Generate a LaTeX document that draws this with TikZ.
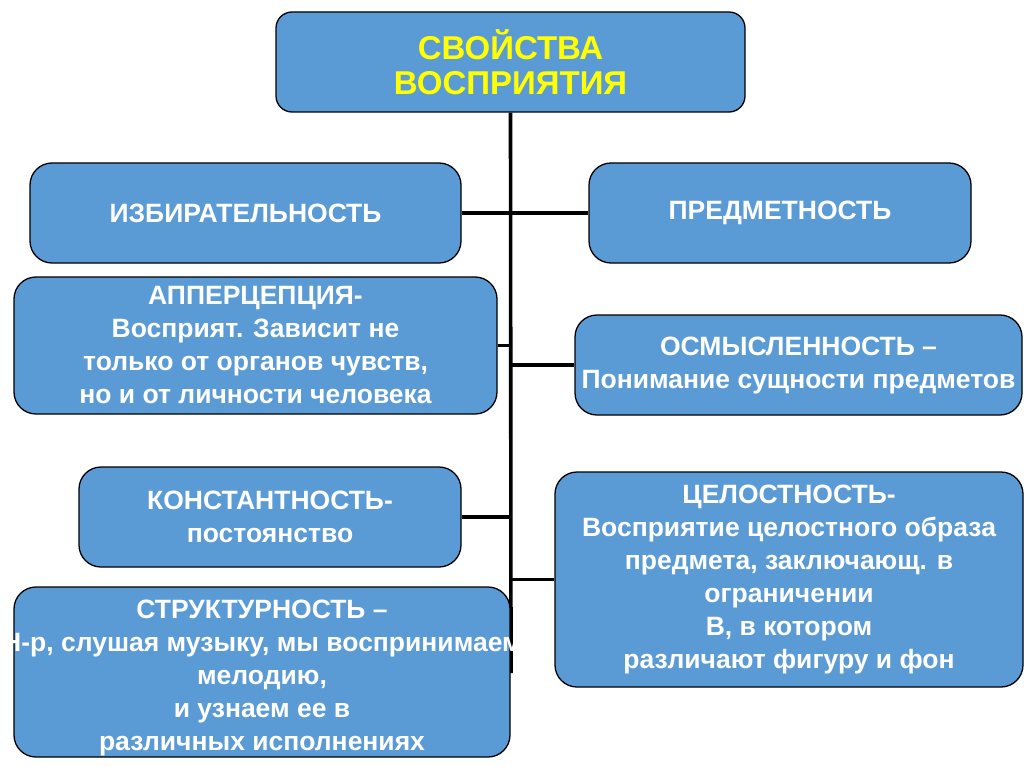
\documentclass[tikz,border=0pt]{standalone}
\usepackage{fontspec}
\setmainfont{Liberation Sans}
\definecolor{boxblue}{RGB}{91,155,213}
\definecolor{titleyellow}{RGB}{255,255,0}

\begin{document}
\begin{tikzpicture}[x=1pt, y=-1pt,
    prop/.style={draw=black, line width=1.3pt, fill=boxblue, rounded corners=22pt,
        text=white, align=center, inner sep=0pt,
        font=\fontsize{26.5}{33}\selectfont\bfseries},
    link/.style={line width=3.6pt}]
    \useasboundingbox (0, 0) rectangle (1024, 767);
    \coordinate (trunkend) at (511, 673);
    \node[prop, minimum width=469, minimum height=100, rounded corners=16pt,
        text=titleyellow, font=\fontsize{33}{35}\selectfont\bfseries]
        (title) at (510.5, 62) {СВОЙСТВА\\ВОСПРИЯТИЯ};
    \draw[link] (title.south) -- (trunkend);
    \node[prop, minimum width=431, minimum height=100] (izb) at (245.5, 213) {ИЗБИРАТЕЛЬНОСТЬ};
    \node[prop, minimum width=382, minimum height=100] (pred) at (780, 213) {ПРЕДМЕТНОСТЬ};
    \node[prop, minimum width=483, minimum height=137] (apper) at (255.5, 345.5)
        {АППЕРЦЕПЦИЯ-\\Восприят. Зависит не\\только от органов чувств,\\но и от личности человека};
    \node[prop, minimum width=447, minimum height=100] (osm) at (798.5, 365)
        {ОСМЫСЛЕННОСТЬ –\\\makebox[0pt]{Понимание сущности предметов}};
    \node[prop, minimum width=382, minimum height=100] (konst) at (270, 517)
        {КОНСТАНТНОСТЬ-\\постоянство};
    \node[prop, minimum width=468, minimum height=215] (tsel) at (789, 579.5)
        {ЦЕЛОСТНОСТЬ-\\Восприятие целостного образа\\предмета, заключающ. в\\ограничении\\В, в котором\\различают фигуру и фон};
    \begin{scope}
        \clip (0, 0) rectangle (512, 767);
        \node[prop, minimum width=496, minimum height=170] (struct) at (262, 672)
            {\rule{0pt}{30pt}СТРУКТУРНОСТЬ –\\\makebox[0pt]{Н-р, слушая музыку, мы воспринимаем}\\мелодию,\\и узнаем ее в\\различных исполнениях};
    \end{scope}
    \draw[link] (izb.east) -- (pred.west);
    \draw[link] (apper.east) -- (apper.east -| title.south);
    \draw[link] (osm.west) -- (osm.west -| title.south);
    \draw[link] (konst.east) -- (konst.east -| title.south);
    \draw[link] (tsel.west) -- (tsel.west -| title.south);
\end{tikzpicture}
\end{document}
